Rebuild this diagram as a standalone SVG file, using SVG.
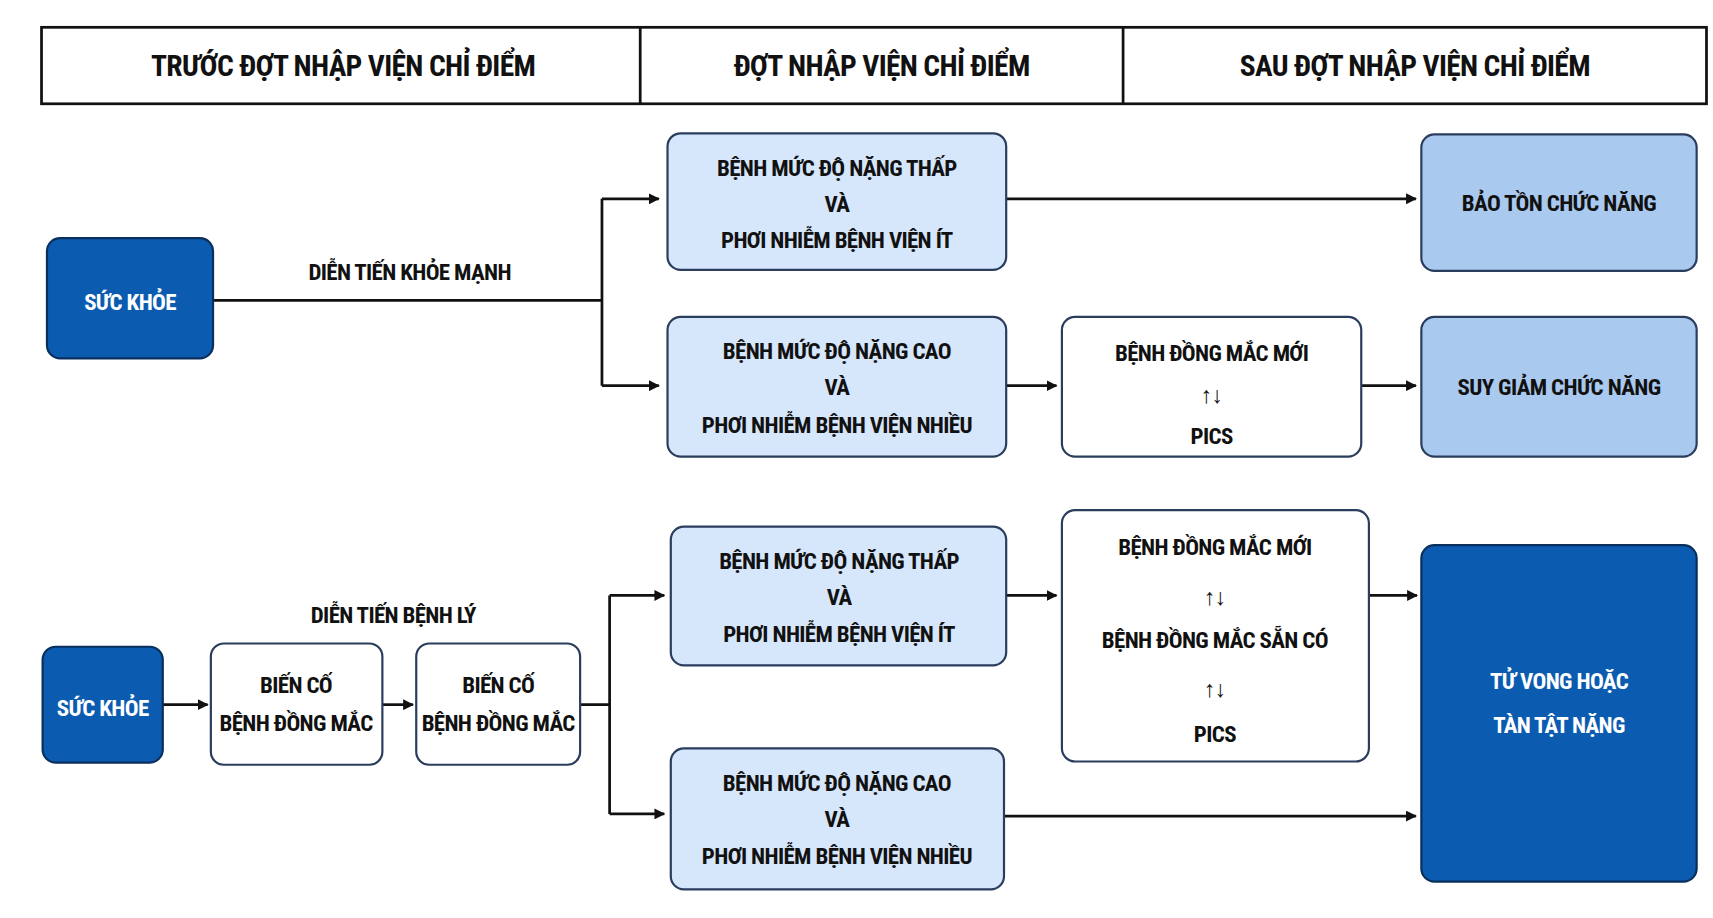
<svg xmlns="http://www.w3.org/2000/svg" width="1713" height="918" viewBox="0 0 1713 918">
<defs>
<marker id="ah" markerWidth="10" markerHeight="10" refX="9" refY="5" orient="auto" markerUnits="userSpaceOnUse" viewBox="0 0 10 10"><path d="M0,0 L10,5 L0,10 Z" fill="#111"/></marker>
<style>
text{font-family:"Roboto Condensed","Liberation Sans Narrow","Liberation Sans",sans-serif;font-weight:bold;font-size:21px;text-anchor:middle;fill:#111;letter-spacing:-0.6px}
.w{fill:#fff}
.h{font-size:27px}
.lb{fill:#d6e6fb;stroke:#2a3d5c;stroke-width:2}
.mb{fill:#a9c9ef;stroke:#2a3d5c;stroke-width:2}
.db{fill:#0b5cb0;stroke:#0a2f5c;stroke-width:2}
.wb{fill:#fff;stroke:#2a3d5c;stroke-width:2}
.c{fill:none;stroke:#111;stroke-width:2.5}
</style>
</defs>
<rect width="1713" height="918" fill="#fff"/>
<g transform="scale(1.0925)">
<g id="header">
<rect x="38" y="25" width="1524" height="70" fill="#fff" stroke="#111" stroke-width="2.5"/>
<line x1="586" y1="25" x2="586" y2="95" stroke="#111" stroke-width="2.5"/>
<line x1="1028" y1="25" x2="1028" y2="95" stroke="#111" stroke-width="2.5"/>
<text class="h" x="314" y="70">TRƯỚC ĐỢT NHẬP VIỆN CHỈ ĐIỂM</text>
<text class="h" x="807" y="70">ĐỢT NHẬP VIỆN CHỈ ĐIỂM</text>
<text class="h" x="1295" y="70">SAU ĐỢT NHẬP VIỆN CHỈ ĐIỂM</text>
</g>
<g id="connectors">
<path class="c" d="M195,275 H551 M551,182 V353"/>
<path class="c" d="M551,182 H603" marker-end="url(#ah)"/>
<path class="c" d="M551,353 H603" marker-end="url(#ah)"/>
<path class="c" d="M921,182 H1296" marker-end="url(#ah)"/>
<path class="c" d="M921,353 H967" marker-end="url(#ah)"/>
<path class="c" d="M1246,353 H1296" marker-end="url(#ah)"/>
<path class="c" d="M149,645 H190" marker-end="url(#ah)"/>
<path class="c" d="M350,645 H378" marker-end="url(#ah)"/>
<path class="c" d="M531,645 H558 M558,545 V745"/>
<path class="c" d="M558,545 H608" marker-end="url(#ah)"/>
<path class="c" d="M558,745 H608" marker-end="url(#ah)"/>
<path class="c" d="M921,545 H967" marker-end="url(#ah)"/>
<path class="c" d="M1253,545 H1297" marker-end="url(#ah)"/>
<path class="c" d="M919,747 H1296" marker-end="url(#ah)"/>
<text x="375" y="256">DIỄN TIẾN KHỎE MẠNH</text>
<text x="360" y="570">DIỄN TIẾN BỆNH LÝ</text>
</g>
<g id="health1"><rect class="db" x="43" y="218" width="152" height="110" rx="12"/><text class="w" x="119" y="284">SỨC KHỎE</text></g>
<g id="low1"><rect class="lb" x="611" y="122" width="310" height="125" rx="12"/><text x="766" y="161">BỆNH MỨC ĐỘ NẶNG THẤP</text><text x="766" y="194">VÀ</text><text x="766" y="227">PHƠI NHIỄM BỆNH VIỆN ÍT</text></g>
<g id="high1"><rect class="lb" x="611" y="290" width="310" height="128" rx="12"/><text x="766" y="329">BỆNH MỨC ĐỘ NẶNG CAO</text><text x="766" y="362">VÀ</text><text x="766" y="396">PHƠI NHIỄM BỆNH VIỆN NHIỀU</text></g>
<g id="preserve"><rect class="mb" x="1301" y="123" width="252" height="125" rx="12"/><text x="1427" y="193">BẢO TỒN CHỨC NĂNG</text></g>
<g id="comorb1"><rect class="wb" x="972" y="290" width="274" height="128" rx="12"/><text x="1109" y="330">BỆNH ĐỒNG MẮC MỚI</text><text x="1109" y="369" font-size="26">↑↓</text><text x="1109" y="406">PICS</text></g>
<g id="decline"><rect class="mb" x="1301" y="290" width="252" height="128" rx="12"/><text x="1427" y="362">SUY GIẢM CHỨC NĂNG</text></g>
<g id="health2"><rect class="db" x="39" y="592" width="110" height="106" rx="12"/><text class="w" x="94" y="655">SỨC KHỎE</text></g>
<g id="event1"><rect class="wb" x="193" y="589" width="157" height="111" rx="12"/><text x="271" y="634">BIẾN CỐ</text><text x="271" y="669">BỆNH ĐỒNG MẮC</text></g>
<g id="event2"><rect class="wb" x="381" y="589" width="150" height="111" rx="12"/><text x="456" y="634">BIẾN CỐ</text><text x="456" y="669">BỆNH ĐỒNG MẮC</text></g>
<g id="low2"><rect class="lb" x="614" y="482" width="307" height="127" rx="12"/><text x="768" y="521">BỆNH MỨC ĐỘ NẶNG THẤP</text><text x="768" y="554">VÀ</text><text x="768" y="588">PHƠI NHIỄM BỆNH VIỆN ÍT</text></g>
<g id="high2"><rect class="lb" x="614" y="685" width="305" height="129" rx="12"/><text x="766" y="724">BỆNH MỨC ĐỘ NẶNG CAO</text><text x="766" y="757">VÀ</text><text x="766" y="791">PHƠI NHIỄM BỆNH VIỆN NHIỀU</text></g>
<g id="comorb2"><rect class="wb" x="972" y="467" width="281" height="230" rx="12"/><text x="1112" y="508">BỆNH ĐỒNG MẮC MỚI</text><text x="1112" y="554" font-size="26">↑↓</text><text x="1112" y="593">BỆNH ĐỒNG MẮC SẴN CÓ</text><text x="1112" y="638" font-size="26">↑↓</text><text x="1112" y="679">PICS</text></g>
<g id="death"><rect class="db" x="1301" y="499" width="252" height="308" rx="12"/><text class="w" x="1427" y="631" font-size="25">TỬ VONG HOẶC</text><text class="w" x="1427" y="671" font-size="25">TÀN TẬT NẶNG</text></g>
</g>
</svg>
